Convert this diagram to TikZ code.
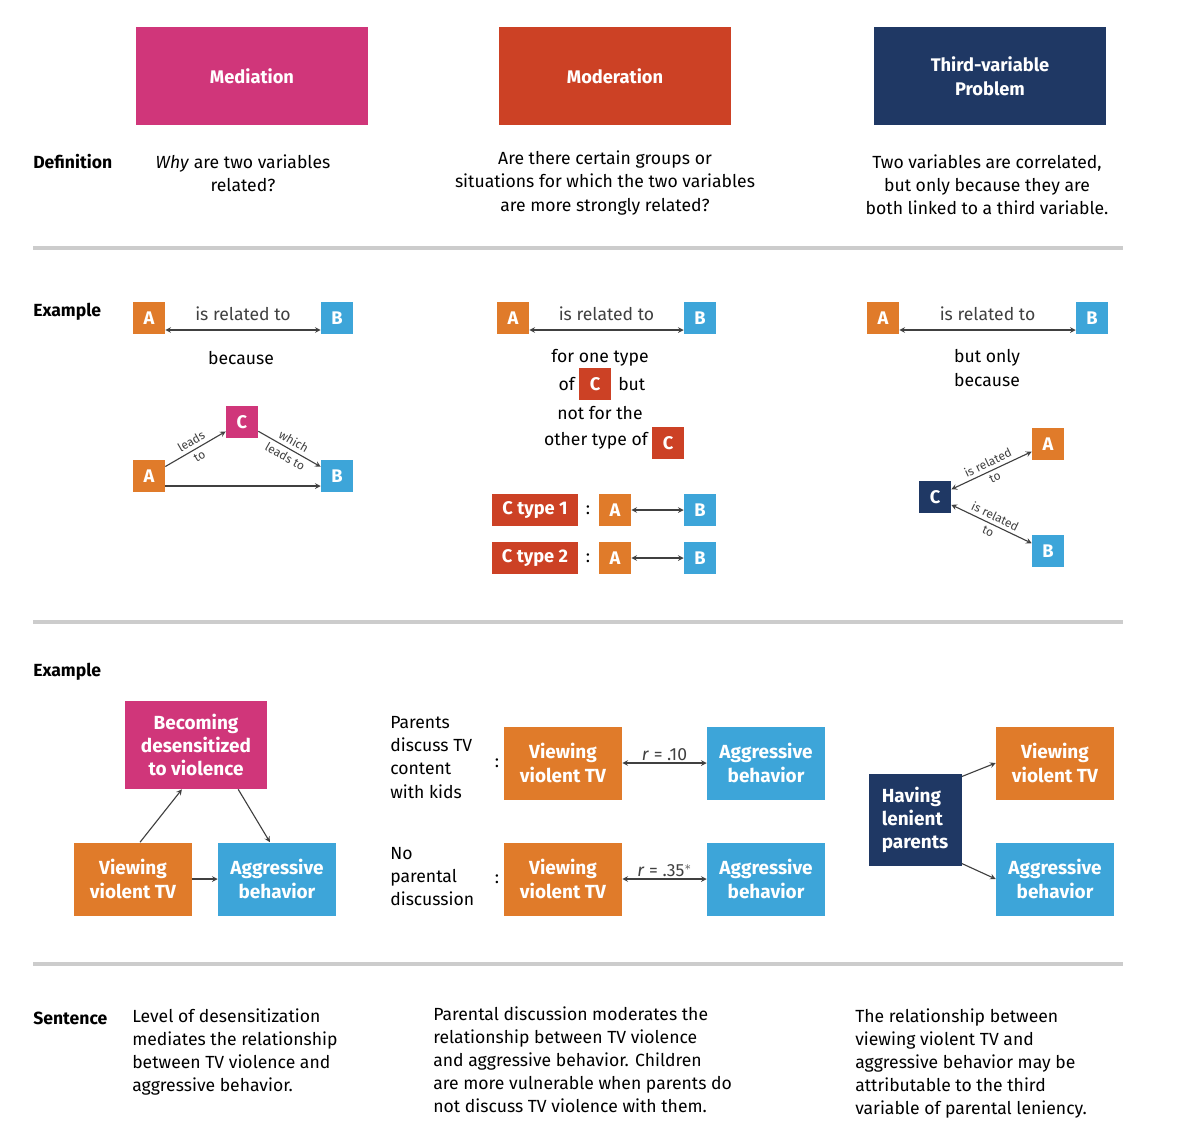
\documentclass[tikz,border=0pt]{standalone}
\usepackage{fontspec}
\setmainfont{Fira Sans}
\usetikzlibrary{positioning}
\definecolor{medpink}{HTML}{D0367A}
\definecolor{modred}{HTML}{CC4125}
\definecolor{thirdnavy}{HTML}{1F3864}
\definecolor{varorange}{HTML}{E07B2A}
\definecolor{varblue}{HTML}{3DA5D9}
\tikzset{
  box/.style={inner sep=0, text=white, align=center, font=\fontsize{13}{17}\selectfont\bfseries},
  head/.style={box, minimum width=5.775cm, minimum height=2.45cm},
  sq/.style={box, minimum size=0.8cm},
  big/.style={box, minimum width=2.95cm, minimum height=1.825cm, font=\fontsize{13.5}{16.5}\selectfont\bfseries},
  txt/.style={inner sep=0, align=center, font=\fontsize{12.5}{16.5}\selectfont},
  ltxt/.style={txt, align=left, anchor=north west},
  lbl/.style={inner sep=0, anchor=west, font=\fontsize{12.5}{16}\selectfont\bfseries},
  small/.style={inner sep=2.5pt, font=\fontsize{8.5}{9}\selectfont},
  arr/.style={->, >=stealth, thick, black!75},
  dbl/.style={<->, >=stealth, thick, black!75},
  rule/.style={line width=3pt, black!20}
}
\begin{document}
\begin{tikzpicture}[x=0.025cm, y=-0.025cm]
\useasboundingbox (0,0) rectangle (1194,1134);
% headers
\node[head, fill=medpink] (med) at (252,76) {Mediation};
\node[head, fill=modred] (mod) at (615,76) {Moderation};
\node[head, fill=thirdnavy] (third) at (990,76) {Third-variable\\Problem};
% definitions
\node[lbl] (def) at (33,162) {Definition};
\node[txt] (meddef) at (243,173) {\textit{Why} are two variables\\related?};
\node[txt] (moddef) at (605,183) {Are there certain groups or\\situations for which the two variables\\are more strongly related?};
\node[txt] (thirddef) at (987,185) {Two variables are correlated,\\but only because they are\\both linked to a third variable.};
\draw[rule] (33,248) -- (1123,248);
% abstract examples
\node[lbl] (ex1) at (33,312) {Example};
\node[sq, fill=varorange] (mA) at (149,318) {A};
\node[sq, fill=varblue] (mB) at (337,318) {B};
\draw[dbl] (mA.east) ++(0,12) coordinate (mAa) -- (mAa -| mB.west)
  node[midway, above=6pt, txt] {is related to};
\node[txt] (mbec) at (241,358) {because};
\node[sq, fill=varorange] (tA) at (149,476) {A};
\node[sq, fill=medpink] (tC) at (242,422) {C};
\node[sq, fill=varblue] (tB) at (337,476) {B};
\draw[arr] (tA) -- (tC) node[midway, sloped, above, small] {leads} node[midway, sloped, below, small] {to};
\draw[arr] (tC) -- (tB) node[midway, sloped, above, small] {which} node[midway, sloped, below, small] {leads to};
\draw[arr] (tA.east) ++(0,10) coordinate (tAa) -- (tAa -| tB.west);
% moderation
\node[sq, fill=varorange] (oA) at (513,318) {A};
\node[sq, fill=varblue] (oB) at (700,318) {B};
\draw[dbl] (oA.east) ++(0,12) coordinate (oAa) -- (oAa -| oB.west)
  node[midway, above=6pt, txt] {is related to};
\node[txt] (one) at (600,358) {for one type};
\node[txt, anchor=east] (of) at (575,384) {of};
\node[sq, fill=modred] (oC1) at (595,384) {C};
\node[txt, anchor=west] (but) at (618,384) {but};
\node[txt] (notfor) at (600,413) {not for the};
\node[txt, anchor=east] (other) at (648,441) {other type of};
\node[sq, fill=modred] (oC2) at (668,443) {C};
\foreach \y/\n in {510/1, 558/2} {
  \node[box, fill=modred, minimum width=2.125cm, minimum height=0.8cm] (ct\n) at (535,\y) {C type \n};
  \node[txt] (col\n) at (588,\y) {:};
  \node[sq, fill=varorange] (cA\n) at (615,\y) {A};
  \node[sq, fill=varblue] (cB\n) at (700,\y) {B};
  \draw[dbl] (cA\n) -- (cB\n);
}
% third variable
\node[sq, fill=varorange] (hA) at (883,318) {A};
\node[sq, fill=varblue] (hB) at (1092,318) {B};
\draw[dbl] (hA.east) ++(0,12) coordinate (hAa) -- (hAa -| hB.west)
  node[midway, above=6pt, txt] {is related to};
\node[txt] (only) at (987,368) {but only\\because};
\node[sq, fill=varorange] (rA) at (1048,444) {A};
\node[sq, fill=thirdnavy] (rC) at (935,497) {C};
\node[sq, fill=varblue] (rB) at (1048,551) {B};
\draw[dbl] (rC) -- (rA) node[midway, sloped, above, small] {is related} node[midway, sloped, below, small] {to};
\draw[dbl] (rC) -- (rB) node[midway, sloped, above, small] {is related} node[midway, sloped, below, small] {to};
\draw[rule] (33,622) -- (1123,622);
% concrete examples
\node[lbl] (ex2) at (33,672) {Example};
\node[big, fill=medpink, minimum width=3.55cm, minimum height=2.2cm] (desens) at (196,745) {Becoming\\desensitized\\to violence};
\node[big, fill=varorange] (view1) at (133,879) {Viewing\\violent TV};
\node[big, fill=varblue] (agg1) at (277,879) {Aggressive\\behavior};
\draw[arr] ([xshift=5pt]view1.north) -- ([xshift=-10pt]desens.south);
\draw[arr] ([xshift=30pt]desens.south) -- ([xshift=-5pt]agg1.north);
\draw[arr] (view1) -- (agg1);
\node[ltxt] (par) at (390,716) {Parents\\discuss TV\\content\\with kids};
\node[ltxt] (nopar) at (390,847) {No\\parental\\discussion};
\foreach \y/\n/\r in {763/1/.10, 879/2/.35$^*$} {
  \node[txt] (mcol\n) at (497,\y) {:};
  \node[big, fill=varorange] (mview\n) at (563,\y) {Viewing\\violent TV};
  \node[big, fill=varblue] (magg\n) at (766,\y) {Aggressive\\behavior};
  \draw[dbl] (mview\n) -- (magg\n) node[midway, above=1pt, txt] {\textit{r} = \r};
}
\node[big, fill=thirdnavy, minimum width=2.325cm, minimum height=2.3cm, align=left] (lenient) at (915,820) {Having\\lenient\\parents};
\node[big, fill=varorange] (tview) at (1055,763) {Viewing\\violent TV};
\node[big, fill=varblue] (tagg) at (1055,879) {Aggressive\\behavior};
\draw[arr] ([yshift=-2pt]lenient.north east) -- (tview.west);
\draw[arr] ([yshift=2pt]lenient.south east) -- (tagg.west);
\draw[rule] (33,964) -- (1123,964);
% sentences
\node[lbl] (sent) at (33,1018) {Sentence};
\node[ltxt] (medsent) at (132,1008) {Level of desensitization\\mediates the relationship\\between TV violence and\\aggressive behavior.};
\node[ltxt] (modsent) at (433,1006) {Parental discussion moderates the\\relationship between TV violence\\and aggressive behavior. Children\\are more vulnerable when parents do\\not discuss TV violence with them.};
\node[ltxt] (thirdsent) at (855,1008) {The relationship between\\viewing violent TV and\\aggressive behavior may be\\attributable to the third\\variable of parental leniency.};
\end{tikzpicture}
\end{document}
